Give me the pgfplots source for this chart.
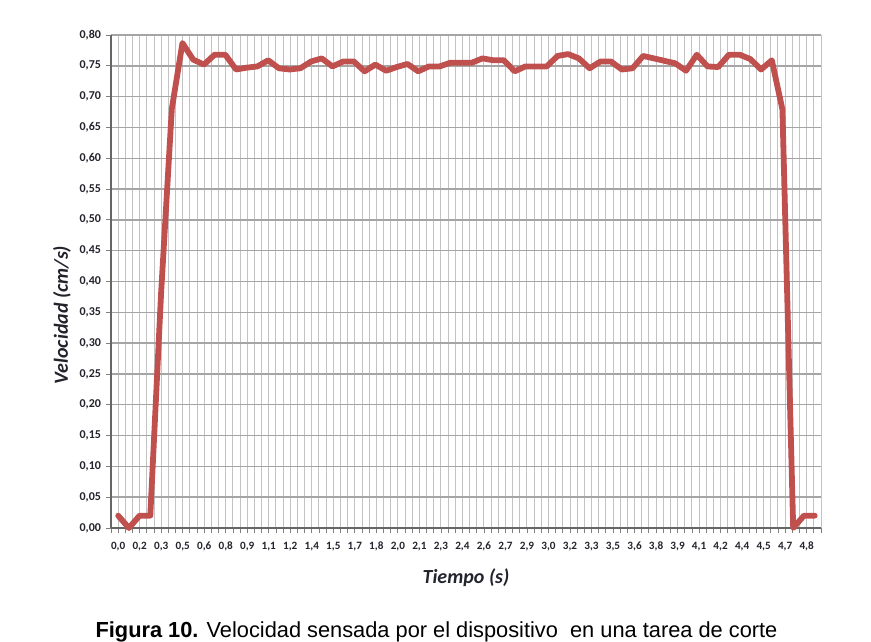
\documentclass[border=0pt]{standalone}
\usepackage{pgfplots}
\pgfplotsset{compat=1.18}
\usepackage{pgfplotstable}
\usepackage{fontspec}
\setmainfont{Carlito}
\newfontfamily\capfont{Liberation Sans}
\definecolor{exred}{RGB}{192,80,77}
\definecolor{gridv}{RGB}{195,195,195}
\definecolor{gridh}{RGB}{165,165,165}
\definecolor{txt}{RGB}{35,35,45}
\pgfplotstableread{
t v
0.000 0.020
0.075 0.000
0.149 0.020
0.224 0.020
0.299 0.380
0.374 0.680
0.448 0.787
0.523 0.760
0.598 0.752
0.672 0.768
0.747 0.768
0.822 0.744
0.896 0.747
0.971 0.749
1.046 0.759
1.121 0.746
1.195 0.744
1.270 0.746
1.345 0.757
1.419 0.762
1.494 0.749
1.569 0.757
1.643 0.757
1.718 0.741
1.793 0.752
1.868 0.742
1.942 0.748
2.017 0.753
2.092 0.741
2.166 0.749
2.241 0.749
2.316 0.755
2.390 0.755
2.465 0.755
2.540 0.762
2.615 0.759
2.689 0.759
2.764 0.741
2.839 0.749
2.913 0.749
2.988 0.749
3.063 0.766
3.137 0.769
3.212 0.762
3.287 0.746
3.362 0.757
3.436 0.757
3.511 0.744
3.586 0.746
3.660 0.766
3.735 0.762
3.810 0.758
3.884 0.754
3.959 0.742
4.034 0.768
4.109 0.749
4.183 0.748
4.258 0.768
4.333 0.768
4.407 0.761
4.482 0.744
4.557 0.759
4.631 0.679
4.706 0.000
4.781 0.020
4.856 0.020
}\veldata
\begin{document}
\begin{tikzpicture}
\path (0,0) rectangle (435.5pt,320.5pt);
\begin{axis}[
  at={(55.5pt,56.5pt)}, anchor=south west,
  scale only axis, width=355pt, height=246.5pt,
  xmin=-0.05, xmax=4.9, ymin=0, ymax=0.8,
  axis x line*=bottom, axis y line*=left,
  axis line style={draw=gray!80!black, line width=0.6pt, -},
  xtick={0,0.15,0.3,0.45,0.6,0.75,0.9,1.05,1.2,1.35,1.5,1.65,1.8,1.95,2.1,2.25,2.4,2.55,2.7,2.85,3,3.15,3.3,3.45,3.6,3.75,3.9,4.05,4.2,4.35,4.5,4.65,4.8},
  xticklabels={{0,0},{0,2},{0,3},{0,5},{0,6},{0,8},{0,9},{1,1},{1,2},{1,4},{1,5},{1,7},{1,8},{2,0},{2,1},{2,3},{2,4},{2,6},{2,7},{2,9},{3,0},{3,2},{3,3},{3,5},{3,6},{3,8},{3,9},{4,1},{4,2},{4,4},{4,5},{4,7},{4,8}},
  minor xtick={-0.05,0,...,4.9},
  ytick={0,0.05,0.1,0.15,0.2,0.25,0.3,0.35,0.4,0.45,0.5,0.55,0.6,0.65,0.7,0.75,0.8},
  grid=both,
  major x grid style={draw=gridv, line width=0.5pt},
  minor x grid style={draw=gridv, line width=0.5pt},
  major y grid style={draw=gridh, line width=0.7pt},
  tick align=outside,
  major tick length=2.5pt, minor tick length=2.5pt,
  tick style={draw=gray, line width=0.4pt},
  xticklabel style={font=\bfseries\fontsize{5.6}{6}\selectfont, text=txt, yshift=-1pt},
  yticklabel style={font=\bfseries\fontsize{6}{7}\selectfont, text=txt, xshift=1pt,
    /pgf/number format/fixed, /pgf/number format/fixed zerofill,
    /pgf/number format/precision=2, /pgf/number format/use comma,
    /pgf/number format/assume math mode=true},
  clip=false,
]
\addplot[exred, line width=2.9pt, line join=round, line cap=round] table[x=t, y=v] {\veldata};
\end{axis}
\node[font=\bfseries\itshape\fontsize{10}{12}\selectfont, text=txt] at (233pt,31.5pt) {Tiempo (s)};
\node[font=\bfseries\itshape\fontsize{10}{12}\selectfont, text=txt, rotate=90] at (31pt,163pt) {Velocidad (cm/s)};
\node[font=\capfont\fontsize{10.9}{12}\selectfont, anchor=base, inner sep=0pt] at (218.25pt,2pt) {\textbf{Figura 10.} Velocidad sensada por el dispositivo\ \ en una tarea de corte};
\end{tikzpicture}
\end{document}
